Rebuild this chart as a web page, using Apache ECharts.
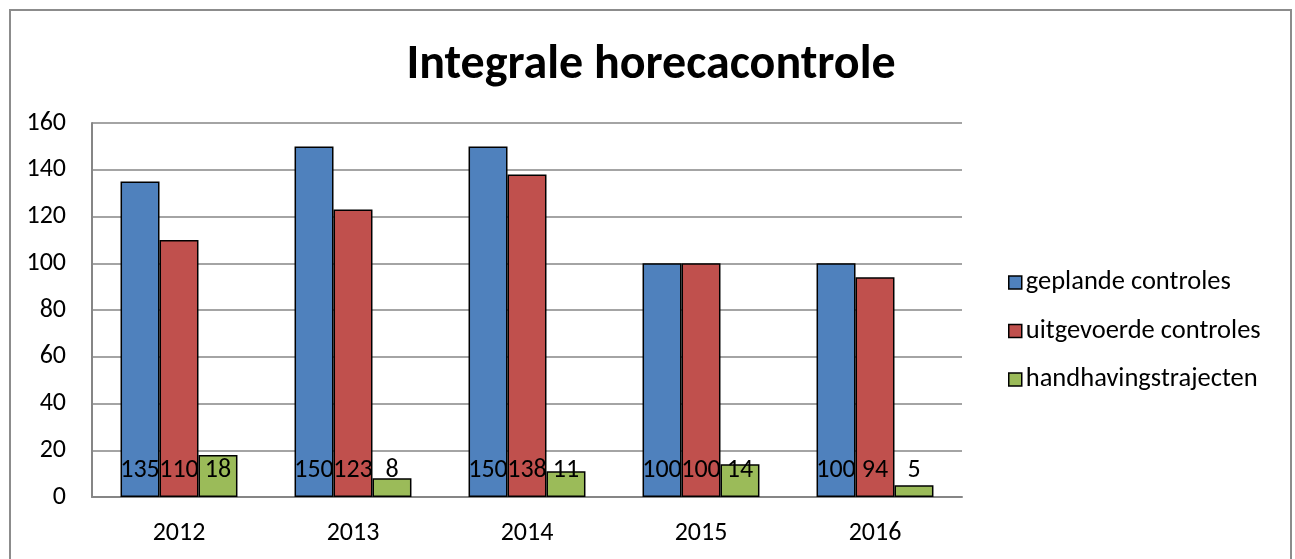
<!DOCTYPE html>
<html><head><meta charset="utf-8">
<script src="https://cdn.jsdelivr.net/npm/echarts@6/dist/echarts.min.js"></script>
<style>html,body{margin:0;padding:0;background:#fff}#c{width:1295px;height:559px}</style>
</head><body><div id="c"></div>
<script>
const categories = ['2012','2013','2014','2015','2016'];
const geplande = [135,150,150,100,100];
const uitgevoerde = [110,123,138,100,94];
const handhaving = [18,8,11,14,5];
const yTicks = [0,20,40,60,80,100,120,140,160];
const seriesNames = ['geplande controles','uitgevoerde controles','handhavingstrajecten'];
const colors = ['#4F81BD','#C0504D','#9BBB59'];
const FONT = 'Carlito, Lato, "Open Sans", sans-serif';
const chart = echarts.init(document.getElementById('c'));
const lbl = {show:true, position:'insideBottom', distance:14, color:'#000', fontSize:26, fontFamily:FONT};
function mk(name, data, i){
  return {name, type:'bar', data, barGap:'0%', barCategoryGap:'32.8%',
    itemStyle:{color:colors[i], borderColor:'#000', borderWidth:1.5}, label:lbl};
}
chart.setOption({
  animation:false,
  title:{text:'Integrale horecacontrole', left:646, textAlign:'center', top:37,
    textStyle:{fontFamily:FONT, fontWeight:'bold', fontSize:48, color:'#000'}},
  graphic:[{type:'rect', shape:{x:10, y:10, width:1281, height:560}, style:{fill:null, stroke:'#8c8c8c', lineWidth:2}, silent:true}],
  legend:{orient:'vertical', left:1003, top:264, itemGap:21.5, itemWidth:13, itemHeight:13, icon:'rect',
    textStyle:{fontFamily:FONT, fontSize:26.5, color:'#000', padding:[0,0,0,-1]},
    itemStyle:{borderColor:'#000', borderWidth:1.5},
    data:seriesNames},
  grid:{left:92, right:333, top:123, bottom:62, containLabel:false},
  xAxis:{type:'category', data:categories,
    axisLine:{lineStyle:{color:'#868686', width:2}}, axisTick:{show:false},
    axisLabel:{color:'#000', fontFamily:FONT, fontSize:26, margin:23}},
  yAxis:{type:'value', min:yTicks[0], max:yTicks[yTicks.length-1], interval:20,
    axisLine:{show:true, lineStyle:{color:'#868686', width:2}}, axisTick:{show:false},
    splitLine:{lineStyle:{color:'#868686', width:1.5}},
    axisLabel:{color:'#000', fontFamily:FONT, fontSize:26, margin:26}},
  series:[mk(seriesNames[0], geplande, 0), mk(seriesNames[1], uitgevoerde, 1), mk(seriesNames[2], handhaving, 2)]
});
</script></body></html>
